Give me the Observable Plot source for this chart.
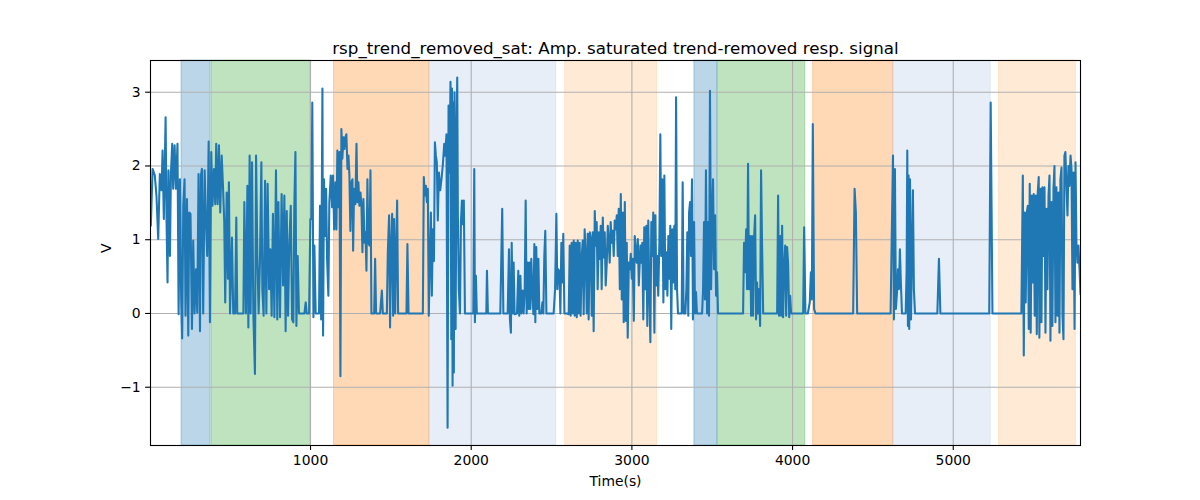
<!DOCTYPE html>
<html>
<head>
<meta charset="utf-8">
<script src="https://cdn.jsdelivr.net/npm/d3@7"></script>
<script src="https://cdn.jsdelivr.net/npm/@observablehq/plot@0.6"></script>
<style>
  html, body { margin: 0; padding: 0; background: white; }
</style>
</head>
<body>
<div id="chart"></div>
<script>
// ---------- DATA ----------
const titleText = "rsp_trend_removed_sat: Amp. saturated trend-removed resp. signal";
const xLabel = "Time(s)";
const yLabel = "V";
const xTicks = [1000, 2000, 3000, 4000, 5000];
const yTicks = [-1, 0, 1, 2, 3];

// shaded phases [start, end] in seconds and their phase kind
const spanStart = [197, 384, 1146, 1740, 2585, 3389, 3534, 4128, 4627, 5285];
const spanEnd   = [378, 1001, 1740, 2529, 3157, 3531, 4079, 4627, 5233, 5763];
const spanKind  = ["p1", "p2", "p3", "p4", "p5", "p1", "p2", "p3", "p4", "p5"];

// signal samples [time, volts]
const part1 = [[6,1.19],[17,1.96],[31,1.87],[41,1.60],[52,1.01],[62,1.89],[73,1.67],[79,2.21],[87,1.28],[98,2.66],[104,1.24],[110,0.42],[116,1.94],[125,0.78],[131,1.89],[139,2.30],[145,1.69],[154,2.28],[162,1.69],[172,2.30],[179,-0.01],[187,1.82],[195,0.19],[201,-0.34],[208,1.46],[216,1.82],[222,-0.03],[231,1.55],[239,-0.30],[245,1.37],[253,1.35],[262,-0.21],[270,0.99],[278,0],[287,0.60],[295,0.01],[303,1.89],[312,-0.24],[318,1.87],[324,1.96],[332,0],[341,1.94],[349,1.24],[357,0.78],[366,2.33],[374,-0.12],[382,2.19],[390,1.46],[399,1.96],[407,1.48],[413,2.30],[422,1.48],[430,2.28],[438,1.37],[447,2.14],[455,1.73],[463,1.24],[469,0.15],[478,1.64],[486,0.47],[492,1.78],[499,0],[511,1.03],[519,0],[530,0],[538,1.30],[544,0],[561,0],[582,0],[588,1.51],[598,0],[607,1.73],[613,-0.19],[621,2.14],[627,0],[636,2.05],[644,0],[654,-0.82],[661,2.14],[669,0.78],[677,0],[685,0.69],[694,2.05],[700,0.33],[708,-0.03],[717,1.80],[725,0],[733,1.76],[742,0.33],[750,0.87],[758,-0.03],[766,1.35],[775,-0.05],[785,1.94],[793,-0.08],[800,1.51],[810,-0.05],[820,1.62],[829,0.38],[837,1.60],[845,-0.24],[852,1.39],[860,-0.03],[868,0.96],[877,1.46],[885,-0.08],[893,-0.12],[899,1.44],[906,2.19],[912,-0.17],[920,0.78],[928,0],[945,0],[962,0],[970,0.15],[976,0],[991,0],[999,1.28],[1005,1.28],[1011,2.86],[1018,-0.05],[1024,0.92],[1032,0],[1053,0],[1059,1.46]];

const part2 = [[1066,-0.08],[1074,3.05],[1078,-0.30],[1084,1.82],[1090,1.05],[1097,1.69],[1103,0.74],[1111,0.24],[1117,1.51],[1126,1.87],[1134,1.44],[1140,1.87],[1147,1.14],[1155,1.78],[1161,1.14],[1167,2.21],[1174,1.44],[1180,2.19],[1186,-0.85],[1192,2.50],[1198,2.10],[1205,2.39],[1211,2.23],[1217,2.39],[1223,2.43],[1230,1.96],[1236,2.14],[1242,1.87],[1248,1.12],[1255,1.78],[1261,1.82],[1265,0.85],[1271,1.69],[1279,1.48],[1286,2.30],[1292,1.51],[1298,1.78],[1304,1.46],[1311,1.64],[1317,1.46],[1323,0.83],[1329,1.55],[1336,0.96],[1342,1.10],[1348,0.58],[1354,1.82],[1360,0.96],[1367,0.92],[1373,1.94],[1379,0],[1396,0],[1402,0.74],[1408,0],[1433,0],[1444,0.31],[1450,0],[1475,0],[1481,0.83],[1489,1.33],[1495,-0.19],[1502,0.96],[1508,1.35],[1514,-0.03],[1520,1.28],[1527,0],[1533,0.87],[1539,1.53],[1545,0],[1597,0],[1603,0.94],[1610,0],[1699,0],[1705,1.85],[1711,1.60],[1718,1.73],[1724,1.51],[1730,1.69],[1736,-0.03],[1743,0.78],[1749,1.37],[1755,0.24],[1761,1.14],[1768,0.71],[1774,2.32],[1780,2.14],[1786,2.05],[1792,1.26],[1799,1.91],[1807,1.67],[1815,1.82],[1824,2.03],[1832,2.30],[1838,2.14],[1846,2.43],[1853,-1.55],[1859,2.82],[1865,1.91],[1871,3.14],[1876,-0.35],[1880,3.05],[1884,-0.98],[1888,2.86],[1892,-0.80],[1896,3.00],[1903,-0.21],[1909,2.50],[1913,3.20],[1917,1.33],[1923,0.33],[1930,0],[1936,1.24],[1942,1.53],[1948,1.21],[1954,1.53],[1961,0],[2013,0],[2019,1.96],[2023,-0.12],[2029,0.51],[2035,0],[2056,0]];

const part3 = [[2094,0],[2098,0.58],[2104,0],[2181,0],[2193,1.42],[2200,0],[2227,0],[2235,0.87],[2241,-0.08],[2247,-0.26],[2252,0.96],[2258,0],[2264,0.69],[2270,-0.01],[2285,0],[2293,0.58],[2299,-0.03],[2306,0.51],[2312,0],[2320,0.31],[2326,0],[2333,0.33],[2339,1.53],[2345,0],[2351,0.69],[2357,0.06],[2362,0.69],[2368,0.06],[2374,0.74],[2380,0.31],[2387,-0.01],[2393,0.94],[2399,-0.12],[2405,0.90],[2411,0.06],[2418,0.74],[2424,0],[2436,0],[2443,0.15],[2449,0],[2455,0.78],[2461,1.12],[2468,0],[2482,0],[2503,0],[2513,0],[2522,0.33],[2530,1.35],[2536,0.33],[2542,0.60],[2549,0.56],[2555,0],[2561,0.96],[2567,0.42],[2573,1.08],[2580,0],[2588,0],[2596,0],[2607,-0.01],[2613,0.92],[2619,-0.03],[2625,0.96],[2632,0],[2638,0.99],[2644,-0.03],[2650,0.96],[2657,-0.05],[2663,0.99],[2669,0],[2675,0.96],[2681,-0.03],[2688,0.78],[2694,0.99],[2700,-0.01],[2706,1.14],[2713,0.78],[2719,0],[2725,1.08],[2731,-0.08],[2738,1.10],[2744,1.01],[2750,-0.03],[2756,1.10],[2762,-0.24],[2769,1.39],[2775,0.92],[2781,1.24],[2787,0.33],[2794,1.10],[2800,0.74],[2806,1.19],[2812,0.33],[2819,1.30],[2825,0.76],[2831,1.10],[2837,0.38],[2843,0.65],[2850,1.19],[2856,0.96],[2862,0.69],[2868,1.24],[2875,0.96],[2881,1.12],[2887,0.78],[2893,1.26],[2900,1.14],[2906,1.33],[2912,0.78],[2918,1.42],[2925,0.33],[2931,1.62],[2937,0.19],[2943,1.37],[2949,-0.12],[2956,1.51],[2962,-0.10],[2968,0.96],[2974,-0.33],[2981,0.69],[2987,0.60],[2993,0.81],[2999,0.47],[3005,0.74],[3012,-0.10],[3018,1.05],[3024,0.87],[3030,0.69],[3037,1.01],[3043,0.38],[3053,0.92]];

const part4 = [[3059,0.69],[3065,0.96],[3071,-0.08],[3077,1.17],[3083,0.33],[3090,1.19],[3096,-0.17],[3102,1.26],[3108,0.38],[3115,-0.39],[3121,1.24],[3127,0.78],[3133,1.37],[3140,-0.26],[3146,1.33],[3152,0.38],[3158,0.78],[3164,0.24],[3171,0.96],[3177,2.43],[3183,0.78],[3189,1.82],[3196,0.15],[3202,1.87],[3208,0.33],[3214,0.83],[3221,0.24],[3227,1.05],[3233,0.47],[3239,1.19],[3245,-0.21],[3252,1.14],[3258,0.42],[3264,1.19],[3270,0.33],[3275,2.93],[3281,0.33],[3287,0],[3310,0],[3316,1.78],[3322,0],[3333,0],[3339,0.33],[3345,1.10],[3351,-0.03],[3356,1.37],[3362,1.51],[3368,0.78],[3374,1.82],[3380,-0.08],[3387,1.24],[3393,0],[3399,0.29],[3405,0],[3437,0],[3443,0.33],[3449,1.24],[3455,0.19],[3461,1.94],[3468,0],[3474,1.24],[3480,-0.03],[3486,3.02],[3493,0.33],[3499,1.28],[3505,1.82],[3511,0.60],[3518,1.33],[3524,0.24],[3530,0.56],[3536,0],[3692,0],[3698,0.96],[3704,0.56],[3711,1.14],[3717,0.33],[3723,2.03],[3729,0.33],[3736,1.05],[3742,-0.03],[3748,1.05],[3754,-0.03],[3761,1.05],[3767,1.33],[3773,-0.08],[3779,0.42],[3785,0],[3792,0.33],[3798,-0.17],[3804,1.94],[3810,0.96],[3817,0],[3904,0],[3910,1.60],[3916,-0.03],[3923,1.05],[3929,-0.03],[3935,1.19],[3941,-0.05],[3947,0.60],[3954,0.92],[3960,-0.03],[3966,0.90],[3972,0.69],[3979,-0.05],[3985,0.24],[3991,0],[4049,0]];

const part5 = [[4066,0],[4072,1.17],[4080,0],[4095,0],[4107,0.15],[4114,0.56],[4120,0.19],[4126,2.57],[4134,0.06],[4143,0],[4377,0],[4386,1.69],[4394,1.37],[4402,0],[4610,0],[4618,1.14],[4625,2.14],[4631,-0.08],[4637,1.96],[4643,0.06],[4650,0.29],[4656,0.60],[4662,0.33],[4668,0.87],[4674,0.42],[4681,0],[4704,0],[4710,0.60],[4714,2.21],[4718,-0.17],[4722,1.87],[4726,-0.21],[4731,1.82],[4737,-0.08],[4743,0.78],[4749,1.67],[4755,0.33],[4762,0],[4901,0],[4911,0.74],[4920,0],[5046,0]];

const part6 = [[5224,0],[5233,2.86],[5244,0],[5424,0],[5433,1.87],[5439,-0.57],[5445,1.37],[5451,0.15],[5458,1.37],[5464,1.46],[5470,-0.21],[5476,1.76],[5482,-0.26],[5489,1.60],[5495,0.42],[5501,1.62],[5507,-0.03],[5514,1.60],[5520,-0.28],[5526,1.64],[5532,1.85],[5536,-0.33],[5543,1.69],[5549,-0.12],[5555,1.71],[5561,0.78],[5568,1.71],[5574,-0.26],[5580,1.42],[5586,0.33],[5593,1.60],[5599,1.87],[5605,-0.37],[5611,1.51],[5617,-0.17],[5624,1.69],[5630,2.00],[5636,-0.12],[5642,1.71],[5649,-0.03],[5655,1.64],[5661,-0.26],[5667,1.82],[5674,1.98],[5680,-0.03],[5686,-0.35],[5692,2.14],[5698,2.19],[5705,1.69],[5711,1.33],[5717,2.00],[5723,1.73],[5730,2.14],[5736,1.96],[5742,0.33],[5748,1.91],[5755,-0.21],[5761,2.05],[5767,0.92],[5773,0.69],[5779,0.92],[5786,0.60],[5792,0.26]];

// ---------- STYLE ----------
const kindColor = { p1: "#1f77b4", p2: "#2ca02c", p3: "#ff7f0e", p4: "#aec7e8", p5: "#ffbb78" };
const lineColor = "#1f77b4";
const gridColor = "#b0b0b0";
const font = "DejaVu Sans, sans-serif";

// ---------- BUILD ----------
const spans = spanStart.map((s, i) => ({ x1: s, x2: spanEnd[i], kind: spanKind[i] }));
const signal = [...part1, ...part2, ...part3, ...part4, ...part5, ...part6].map(([t, v]) => ({ t, v }));
const fmt = d => (d < 0 ? "\u2212" + Math.abs(d) : String(d));

const chart = Plot.plot({
  width: 1200,
  height: 500,
  marginLeft: 150,
  marginRight: 120,
  marginTop: 60,
  marginBottom: 55,
  style: { fontFamily: font, fontSize: "13.9px", background: "white", color: "black" },
  x: { domain: [4, 5792] },
  y: { domain: [-1.79, 3.43] },
  marks: [
    Plot.rect(spans, {
      x1: "x1", x2: "x2",
      fill: d => kindColor[d.kind], fillOpacity: 0.3,
      stroke: d => kindColor[d.kind], strokeOpacity: 0.3, strokeWidth: 1,
      inset: 0
    }),
    Plot.gridX(xTicks, { stroke: gridColor, strokeOpacity: 1, strokeWidth: 1.1 }),
    Plot.gridY(yTicks, { stroke: gridColor, strokeOpacity: 1, strokeWidth: 1.1 }),
    Plot.line(signal, { x: "t", y: "v", stroke: lineColor, strokeWidth: 2.08, clip: true, strokeLinejoin: "round" }),
    Plot.frame({ stroke: "black", strokeWidth: 1.1 }),
    Plot.axisX(xTicks, { tickFormat: fmt, tickSize: 4.9, tickPadding: 4.9, label: null, strokeWidth: 1.1, fontSize: 13.9 }),
    Plot.axisY(yTicks, { tickFormat: fmt, tickSize: 4.9, tickPadding: 4.9, label: null, strokeWidth: 1.1, fontSize: 13.9 }),
    Plot.text([titleText], { text: d => d, frameAnchor: "top", lineAnchor: "bottom", dy: -7, fontSize: 16.7, fill: "black" }),
    Plot.text([xLabel], { text: d => d, frameAnchor: "bottom", lineAnchor: "middle", dy: 36, fontSize: 13.9, fill: "black" }),
    Plot.text([yLabel], { text: d => d, frameAnchor: "left", rotate: -90, dx: -44, fontSize: 13.9, fill: "black" })
  ]
});
document.getElementById("chart").appendChild(chart);
</script>
</body>
</html>
